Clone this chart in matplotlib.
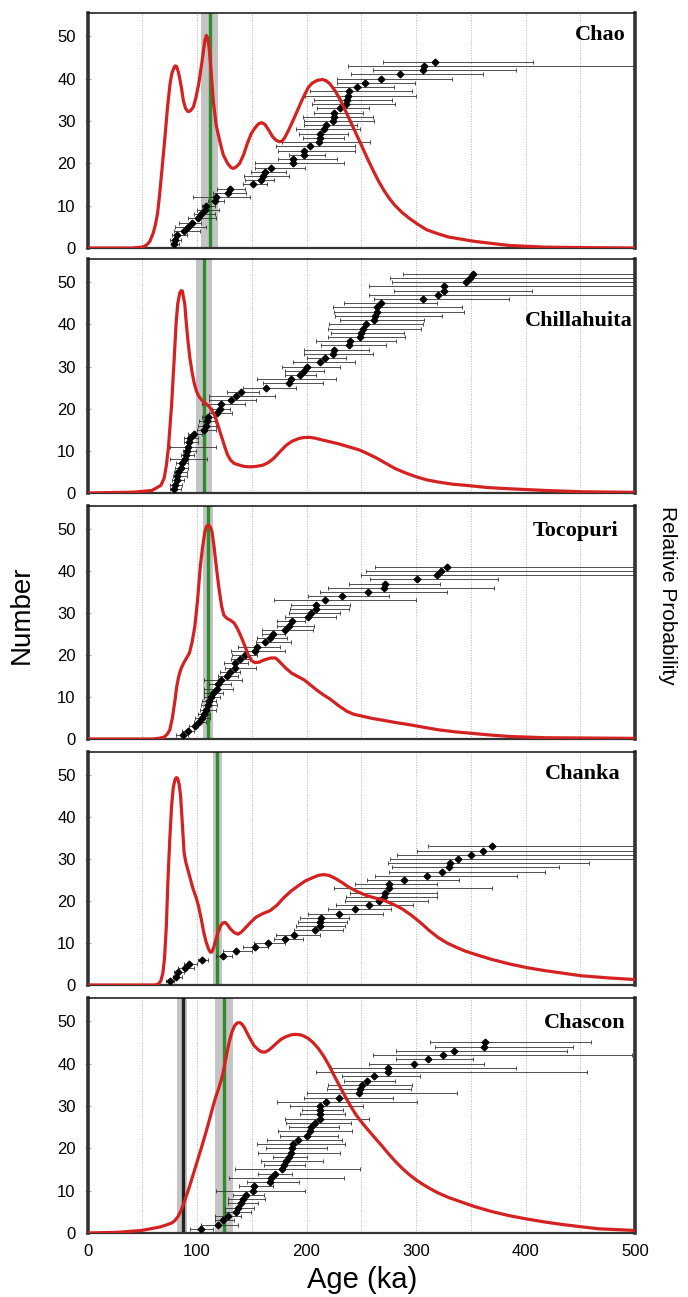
import numpy as np
import matplotlib
matplotlib.use('Agg')
import matplotlib.pyplot as plt

# grain ages (ka) with lower/upper error limits, sorted -> rank on the Number axis
chao_age = [79, 80, 82, 88, 92, 95, 101, 104, 107, 108, 116, 117, 128, 130, 151, 158, 160, 162, 168, 188, 188, 198,
            198, 203, 211, 212, 212, 216, 218, 224, 225, 225, 231, 236, 237, 238, 239, 246, 253, 268, 285, 306, 307, 317]
chao_lo = [76, 75, 77, 79, 80, 84, 92, 97, 100, 105, 110, 96, 115, 118, 142, 144, 143, 149, 153, 153, 174, 184,
           174, 172, 178, 197, 193, 190, 198, 198, 197, 207, 210, 205, 207, 199, 203, 223, 228, 228, 241, 261, 238, 270]
chao_hi = [84, 85, 91, 103, 108, 104, 117, 116, 120, 116, 125, 148, 145, 144, 164, 170, 184, 181, 199, 234, 228, 217,
           244, 244, 258, 234, 238, 249, 246, 262, 261, 252, 257, 281, 278, 300, 296, 280, 299, 333, 361, 391, 540, 407]

chil_age = [79, 80, 82, 82, 83, 85, 86, 89, 90, 91, 92, 93, 94, 97, 106, 108, 109, 110, 118, 121, 122, 131, 136, 140,
            163, 184, 186, 194, 198, 200, 212, 217, 224, 225, 239, 240, 249, 250, 252, 254, 262, 263, 264, 264, 268,
            306, 320, 326, 326, 346, 349, 352]
chil_lo = [75, 75, 77, 78, 79, 80, 81, 75, 85, 87, 75, 88, 88, 92, 100, 101, 102, 105, 111, 114, 105, 111, 111, 127,
           142, 160, 155, 180, 180, 178, 188, 200, 198, 198, 213, 209, 220, 222, 220, 221, 231, 226, 225, 224, 234,
           262, 257, 280, 257, 278, 276, 288]
chil_hi = [85, 86, 88, 91, 91, 92, 92, 109, 97, 99, 117, 101, 101, 105, 117, 117, 116, 117, 132, 130, 144, 154, 171, 157,
           190, 215, 227, 209, 216, 231, 244, 236, 261, 257, 273, 282, 290, 289, 305, 306, 307, 324, 344, 342, 319,
           385, 540, 406, 540, 540, 540, 540]

toco_age = [87, 92, 98, 102, 105, 106, 108, 110, 111, 113, 115, 118, 119, 122, 127, 130, 135, 135, 139, 144, 153, 155,
            162, 167, 169, 180, 184, 187, 201, 204, 209, 209, 217, 232, 256, 271, 272, 301, 319, 323, 328]
toco_lo = [81, 86, 93, 97, 98, 101, 103, 104, 105, 106, 106, 106, 111, 106, 119, 121, 126, 125, 131, 132, 131, 137,
           154, 155, 159, 159, 173, 173, 180, 184, 185, 186, 170, 201, 212, 220, 239, 258, 250, 254, 263]
toco_hi = [92, 97, 101, 108, 112, 112, 117, 118, 117, 121, 124, 133, 131, 141, 137, 139, 154, 147, 149, 155, 180, 176,
           186, 182, 180, 206, 207, 199, 227, 231, 239, 240, 300, 275, 328, 371, 322, 375, 540, 540, 540]

chan_age = [75, 81, 83, 89, 93, 105, 124, 136, 153, 165, 180, 189, 208, 212, 212, 213, 230, 244, 257, 266, 271, 272,
            275, 275, 289, 310, 324, 330, 331, 338, 350, 361, 369]
chan_lo = [72, 78, 79, 83, 88, 101, 117, 124, 142, 152, 170, 172, 189, 190, 192, 194, 201, 220, 227, 235, 236, 240,
           225, 244, 255, 263, 275, 278, 274, 276, 283, 301, 311]
chan_hi = [79, 86, 88, 97, 100, 110, 132, 150, 165, 180, 197, 212, 233, 235, 237, 239, 270, 277, 297, 311, 319, 319,
           369, 319, 339, 392, 418, 431, 458, 540, 540, 540, 540]

chas_age = [104, 119, 124, 128, 136, 137, 140, 142, 145, 151, 152, 167, 168, 171, 178, 179, 181, 184, 186, 187, 188,
            192, 200, 203, 204, 208, 212, 212, 212, 212, 218, 230, 248, 249, 251, 255, 262, 274, 274, 298, 311, 325,
            335, 362, 363]
chas_lo = [94, 104, 116, 116, 126, 126, 128, 128, 133, 117, 138, 146, 129, 156, 135, 161, 158, 169, 156, 163, 155,
           164, 176, 174, 184, 181, 180, 194, 196, 185, 173, 198, 200, 219, 220, 234, 232, 209, 222, 257, 282, 261,
           282, 317, 313]
chas_hi = [115, 137, 134, 140, 149, 152, 156, 162, 161, 199, 169, 193, 234, 187, 249, 199, 215, 200, 231, 219, 235,
           232, 229, 242, 230, 241, 257, 235, 233, 252, 301, 279, 337, 295, 296, 281, 304, 456, 391, 362, 352, 497,
           438, 443, 460]

# relative probability curves (age, value), scaled to the Number axis
chao_pdf = [(0, 0), (41, 0), (50, 0.2), (54, 0.7), (57, 1.6), (60, 3.5), (62, 5.5), (64, 8.2), (66, 13), (68, 18.5),
            (70.5, 25.5), (73, 33), (75.4, 38.8), (77, 41.2), (78.7, 42.4), (80, 43), (81.3, 42.9), (82.7, 41.8),
            (84, 40.4), (86, 37.5), (87.5, 34.9), (89.5, 33), (91.8, 32.2), (94, 32.4), (96.7, 33.3), (99, 35.5),
            (101.6, 38.8), (104, 43), (106, 46.7), (107.2, 49), (108.5, 50.2), (109.8, 49.6), (111, 47.5),
            (112.5, 43), (114.8, 34.9), (117.5, 29), (121.3, 24.7), (124, 22), (127.9, 20), (131, 19), (133.4, 18.8),
            (136, 19.2), (139, 20), (142.5, 22), (146, 24.7), (149.5, 27), (152.5, 28.2), (156, 29.3), (159, 29.6),
            (162, 29.2), (165.6, 27.8), (169, 26.3), (172, 25.5), (175, 25.1), (177.5, 25.2), (180, 26),
            (183.6, 27.8), (187.5, 30), (191.8, 32.5), (196, 35), (201.6, 37.9), (205, 38.9), (209.8, 39.6),
            (214.8, 39.8), (218, 39.5), (221.3, 38.8), (226, 37.2), (231, 34.9), (236, 32.2), (241, 29.4),
            (246, 26.6), (250.8, 23.9), (255.7, 21.1), (260.7, 18.4), (265.6, 15.9), (270.5, 13.7), (275.4, 11.8),
            (280.3, 10.2), (286.8, 8.5), (293.4, 7.1), (301.6, 5.6), (309.8, 4.3), (319.6, 3.4), (329.5, 2.6),
            (341, 2.1), (352.5, 1.6), (368.7, 1.1), (385, 0.6), (418, 0.2), (451, 0.1), (500, 0)]

chil_pdf = [(0, 0), (42.5, 0.2), (58.8, 0.6), (67, 1.8), (70, 3.5), (72, 6.5), (74, 11), (76.8, 20.9), (79, 31),
            (81, 40.7), (82.5, 45), (84.3, 47.5), (85.5, 48), (86.6, 47.9), (88, 46), (88.9, 44.7), (90, 41),
            (91.5, 36.7), (93.5, 32), (95.4, 28.8), (97.5, 26), (99.7, 24), (102, 22.8), (105.2, 21.8), (108, 21.2),
            (111.1, 20.5), (113.5, 19.6), (116, 18.5), (118.5, 16.6), (121, 14.5), (123.5, 12.5), (125.8, 10.6),
            (128, 9), (130.7, 7.8), (134, 7), (138.9, 6.6), (143, 6.3), (148.7, 6.2), (154, 6.3), (160.1, 6.6),
            (165, 7.2), (170, 8.2), (175, 9.6), (181.4, 11.3), (187, 12.3), (192.8, 12.9), (197, 13.15),
            (202.6, 13.2), (208, 13), (215.7, 12.5), (228.8, 11.7), (238, 11), (248.4, 10.2), (256, 9.3),
            (264.7, 8.2), (272, 7.1), (281, 5.8), (290, 4.8), (300.7, 3.8), (310, 3.1), (320.3, 2.6), (333, 2.1),
            (346.4, 1.8), (365, 1.3), (385.6, 1), (418, 0.6), (451, 0.3), (500, 0.15)]

toco_pdf = [(0, 0), (58.8, 0), (66, 0.2), (70.3, 0.5), (73, 1.2), (75.2, 2.2), (77.5, 5), (80, 9.4), (81.5, 12.5),
            (83.3, 14.9), (85.5, 16.8), (88.2, 18.3), (90.5, 19.3), (93.1, 20.5), (95.5, 23), (98, 26.8),
            (100.5, 33), (103, 41.1), (105, 45.5), (107.2, 49.4), (108.8, 50.7), (110.5, 51), (112, 50.5),
            (113.7, 49.4), (115.5, 46), (117.6, 41.1), (120, 36), (122.5, 31.6), (124.5, 29.5), (127.5, 28.7),
            (130.5, 28.3), (134, 27.6), (136.5, 26.5), (138.9, 25.2), (141.5, 23.6), (143.8, 22.1), (146.5, 20.2),
            (149.7, 18.7), (153, 18.2), (156.9, 18.3), (160, 18.7), (163.4, 19), (167.5, 19.3), (171.6, 19.3),
            (174, 18.8), (176.5, 18.1), (181, 16.9), (186.3, 15.7), (192, 14.9), (197.7, 14.1), (203, 13),
            (209.2, 11.7), (215, 10.6), (222.2, 9.4), (229, 8), (236.9, 6.6), (243, 5.9), (251.6, 5.4), (260, 4.9),
            (271.2, 4.4), (282, 3.9), (294.1, 3.4), (307, 2.8), (320.3, 2.2), (336, 1.7), (352.9, 1.3), (370, 0.9),
            (385.6, 0.6), (418.3, 0.3), (500, 0.15)]

chan_pdf = [(0, 0), (62, 0), (65, 0.3), (67, 1), (68.8, 2.8), (70.3, 6.2), (72, 14), (73.5, 25.2), (75.2, 35),
            (76.8, 42.7), (78.3, 47), (80, 49), (81.2, 49.4), (82.4, 49.2), (83.7, 47.8), (85, 45.1), (86.6, 38.5),
            (88.2, 31.6), (89.8, 29.2), (91.5, 27.6), (94, 25.2), (96.4, 22.9), (99, 21), (101.3, 18.9),
            (103.8, 15.8), (106.2, 12.5), (108.4, 10.2), (110.5, 8.6), (112.2, 7.8), (113.7, 7.9), (115.3, 9),
            (117, 10.6), (119.3, 12.6), (121.6, 14.1), (123.7, 14.8), (125.8, 14.9), (128, 14.3), (130.7, 13.3),
            (134, 12.5), (137.3, 12.1), (140.5, 12.6), (143.8, 13.5), (148.5, 14.8), (153.6, 16.1), (160, 17),
            (166.7, 17.7), (173, 19), (179.7, 20.9), (186, 22.4), (192.8, 23.7), (199, 24.8), (205.9, 25.6),
            (210.8, 26.1), (215.7, 26.3), (220.6, 26.1), (225.5, 25.5), (232, 24.5), (238.6, 23.3), (246.7, 22.2),
            (254.9, 21.3), (263, 20.7), (271.2, 20.1), (279.4, 19.2), (287.6, 18.1), (295.8, 16.6), (303.9, 14.9),
            (312, 13), (320.3, 11.3), (328.4, 10), (336.6, 9), (344.7, 8.1), (352.9, 7.4), (369, 6.1), (385.6, 5),
            (402, 4.1), (418.3, 3.4), (434.6, 2.8), (451, 2.2), (475, 1.7), (500, 1.3)]

chas_pdf = [(0, 0), (26.7, 0.15), (49.5, 0.6), (65.8, 1.4), (72, 1.9), (77.2, 2.4), (80, 3), (82.7, 3.9),
            (85.7, 5.5), (88.6, 7.5), (91.8, 9.9), (95.1, 12.6), (98.3, 15.3), (101.6, 18.1), (104.8, 20.8),
            (108.1, 23.7), (111.4, 26.8), (114.7, 30), (117, 32), (119.5, 33.9), (122, 36), (124.4, 38.6),
            (126.8, 41.8), (129.3, 45), (131.7, 47.3), (134.2, 48.9), (136.6, 49.6), (139.1, 49.7), (141.2, 49.3),
            (143.3, 48.5), (146, 47.1), (148.9, 45.7), (152, 44.3), (155.4, 43.4), (158.6, 42.8), (161.9, 42.7),
            (165, 43.1), (168.4, 43.8), (172.5, 44.8), (176.5, 45.7), (180.6, 46.3), (184.7, 46.7), (188, 46.9),
            (191.2, 46.9), (194.5, 46.8), (197.7, 46.5), (201.8, 45.9), (205.9, 45), (210.8, 43.6), (215.6, 41.8),
            (220.5, 39.6), (225.4, 37.1), (230.3, 34.7), (235.2, 32.3), (240, 30.1), (245, 28), (249.9, 26.3),
            (254.7, 24.8), (261, 22.9), (267.8, 20.9), (274.3, 18.9), (280.8, 17), (287.3, 15.3), (293.8, 13.8),
            (300.3, 12.5), (306.8, 11.4), (313.3, 10.4), (319.9, 9.5), (329.6, 8.4), (339.4, 7.5), (354, 6.2),
            (368.7, 5.1), (385, 4.1), (401.3, 3.3), (417.6, 2.6), (433.9, 2), (450, 1.5), (466.4, 1), (483, 0.8),
            (500, 0.6)]

# deposit age (green) with its uncertainty band, plus the extra black one for Chascon
names = ['Chao', 'Chillahuita', 'Tocopuri', 'Chanka', 'Chascon']
green_age = [111.5, 106, 110.5, 118.5, 124.5]
green_lo = [104, 99, 105.5, 114.5, 116.5]
green_hi = [119, 114, 114.5, 123, 132.5]
black_age = [None, None, None, None, 87]
black_lo = [None, None, None, None, 82]
black_hi = [None, None, None, None, 91]

ages = [chao_age, chil_age, toco_age, chan_age, chas_age]
los = [chao_lo, chil_lo, toco_lo, chan_lo, chas_lo]
his = [chao_hi, chil_hi, toco_hi, chan_hi, chas_hi]
pdfs = [chao_pdf, chil_pdf, toco_pdf, chan_pdf, chas_pdf]

grid_ticks = list(range(0, 501, 50))
xlabels = ['0', '', '100', '', '200', '', '300', '', '400', '', '500']
yticks = [0, 10, 20, 30, 40, 50]

# layout in pixels of the reference
W, H = 688, 1297
tops = [13, 259, 506, 752, 998]
bots = [248, 493, 739, 985, 1233]
left_px, right_px = 87.5, 635
name_pos = [(0.983, 0.906), (0.995, 0.735), (0.970, 0.893), (0.974, 0.906), (0.982, 0.894)]

sans = 'Liberation Sans'
fig = plt.figure(figsize=(W / 100, H / 100), dpi=100)

for i in range(5):
    ax = fig.add_axes([left_px / W, 1 - bots[i] / H, (right_px - left_px) / W, (bots[i] - tops[i]) / H])
    age = np.array(ages[i], dtype=float)
    lo = np.array(los[i], dtype=float)
    hi = np.array(his[i], dtype=float)
    rank = np.arange(1, len(age) + 1)

    ax.set_xlim(0, 500)
    ax.set_ylim(0, 55.5)
    ax.set_xticks(grid_ticks)
    ax.set_yticks(yticks)
    ax.grid(axis='x', color='#b4b4b4', lw=0.7, ls=(0, (1, 1.6)))
    ax.set_axisbelow(True)

    # uncertainty bands and deposit ages
    ax.axvspan(green_lo[i], green_hi[i], color='#c4c4c4', lw=0, zorder=1)
    if black_age[i] is not None:
        ax.axvspan(black_lo[i], black_hi[i], color='#c4c4c4', lw=0, zorder=1)
        ax.axvline(black_age[i], color='#222222', lw=2.4, zorder=2)
    ax.axvline(green_age[i], color='#2e8b2e', lw=2.4, zorder=2)

    ax.errorbar(age, rank, xerr=[age - lo, hi - age], fmt='D', ms=3.4, mfc='black', mec='black',
                ecolor='#333333', elinewidth=0.6, capsize=1.6, capthick=0.6, zorder=3)

    px, py = zip(*pdfs[i])
    ax2 = ax.twinx()
    ax2.set_ylim(0, 55.5)
    ax2.plot(px, py, color='#d42222', lw=2.3, solid_joinstyle='round', zorder=4)
    ax2.set_yticks([])
    for s in ax2.spines.values():
        s.set_visible(False)

    for side in ['left', 'right']:
        ax.spines[side].set_linewidth(2.6)
        ax.spines[side].set_color('#333333')
    ax.spines['top'].set_linewidth(1.1)
    ax.spines['top'].set_color('#111111')
    ax.spines['bottom'].set_linewidth(1.6)
    ax.spines['bottom'].set_color('#333333')

    ax.tick_params(axis='y', direction='inout', length=5, width=0.8, color='#aaaaaa',
                   labelsize=12, pad=6)
    ax.tick_params(axis='x', length=0, labelsize=12, pad=8)
    for lab in ax.get_yticklabels():
        lab.set_family(sans)
    if i == 4:
        ax.set_xticklabels(xlabels, family=sans)
    else:
        ax.set_xticklabels([])

    ax.text(name_pos[i][0], name_pos[i][1], names[i], transform=ax.transAxes, ha='right', va='center',
            family='Liberation Serif', fontweight='bold', fontsize=16, zorder=6)

fig.text(22 / W, 1 - 615 / H, 'Number', rotation=90, ha='center', va='center', family=sans, fontsize=20)
fig.text(668 / W, 1 - 595 / H, 'Relative Probability', rotation=270, ha='center', va='center',
         family=sans, fontsize=15)
fig.text(362 / W, 1 - 1280 / H, 'Age (ka)', ha='center', va='center', family=sans, fontsize=21)

fig.savefig('out.png', dpi=100)
